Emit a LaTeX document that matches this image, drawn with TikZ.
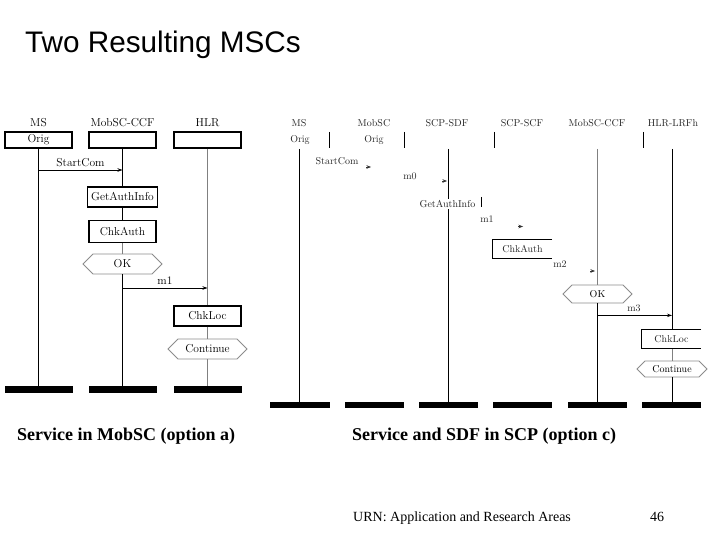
\documentclass[tikz,border=0pt]{standalone}
\usepackage{fontspec}
\usetikzlibrary{shapes.symbols,arrows.meta}
\newfontfamily\titlefont{Liberation Sans}
\newfontfamily\capfont{Liberation Serif}
\begin{document}
\begin{tikzpicture}[x=1pt,y=-1pt,
  lbl/.style={font=\fontsize{11.5}{13}\selectfont, inner sep=0},
  rlbl/.style={font=\fontsize{10}{12}\selectfont, inner sep=0, text=black!85},
  lbox/.style={draw, line width=1.1pt, fill=white, minimum width=67pt, minimum height=20pt, inner sep=0, font=\fontsize{11.5}{13}\selectfont},
  rbox/.style={inner sep=0, font=\fontsize{10}{12}\selectfont, text=black!85},
  hex/.style={signal, signal to=west and east, draw=black!45, line width=0.8pt, fill=white, inner sep=0},
  bar/.style={fill=black, inner sep=0},
  life/.style={line width=0.9pt},
  glife/.style={line width=0.7pt, draw=black!50},
  msg/.style={-{Stealth[length=5pt,width=3.5pt]}, line width=0.8pt},
  stub/.style={-{Stealth[length=4.5pt,width=3.5pt]}, line width=0.5pt, draw=black!80},
]
\useasboundingbox (0,0) rectangle (720,540);

% title
\node[anchor=base west, inner sep=0, font=\titlefont\fontsize{29.7}{32}\selectfont] (title) at (25,53) {Two Resulting MSCs};

% ================= left MSC =================
\node[lbl] (lms) at (38.5,123) {MS};
\node[lbl] (lccf) at (122.5,123) {MobSC-CCF};
\node[lbl] (lhlr) at (207.5,123) {HLR};
\node[lbox, minimum height=16pt] (lmsbox) at (38.5,140) {Orig};
\node[lbox, minimum height=16pt] (lccfbox) at (122.5,140) {};
\node[lbox, minimum height=16pt] (lhlrbox) at (207.5,140) {};

\node[lbox, minimum width=70pt] (lgai) at (122.5,197) {GetAuthInfo};
\node[lbox, minimum height=22pt] (lchk) at (122.5,231.5) {ChkAuth};
\node[hex, minimum width=79pt, minimum height=20pt, font=\fontsize{11.5}{13}\selectfont] (lok) at (122.5,264) {OK};
\node[lbox] (lloc) at (207.5,316) {ChkLoc};
\node[hex, minimum width=79pt, minimum height=20pt, font=\fontsize{11.5}{13}\selectfont] (lcont) at (207.5,349) {Continue};

\node[bar, minimum width=68pt, minimum height=7pt] (lmsbar) at (38.5,389.5) {};
\node[bar, minimum width=68pt, minimum height=7pt] (lccfbar) at (122.5,389.5) {};
\node[bar, minimum width=68pt, minimum height=7pt] (lhlrbar) at (207.5,389.5) {};

\draw[life] (lmsbox.south) -- (lmsbar.north);
\draw[life] (lccfbox.south) -- (lgai.north);
\draw[life] (lgai.south) -- (lchk.north);
\draw[glife] (lchk.south) -- (lok.north);
\draw[life] (lok.south) -- (lccfbar.north);
\draw[glife] (lhlrbox.south) -- (lloc.north);
\draw[glife] (lloc.south) -- (lcont.north);
\draw[glife] (lcont.south) -- (lhlrbar.north);

\draw[msg] (lmsbox.south |- 0,170) -- node[lbl, above=3pt] (lstart) {StartCom} (lccfbox.south |- 0,170);
\draw[msg] (lok.south |- 0,288) -- node[lbl, above=3pt] (lm1) {m1} (lhlrbox.south |- 0,288);

% ================= right MSC =================
\node[rlbl] (rms) at (299,123) {MS};
\node[rlbl] (rmsorig) at (300,140) {Orig};
\node[rlbl] (rmob) at (374,123) {MobSC};
\node[rlbl] (rmoborig) at (374,140) {Orig};
\node[rlbl] (rsdf) at (447,123) {SCP-SDF};
\node[rlbl] (rscf) at (522,123) {SCP-SCF};
\node[rlbl] (rccf) at (597,123) {MobSC-CCF};
\node[rlbl] (rhlr) at (673,123) {HLR-LRFh};

\draw[line width=0.9pt] (329,132) -- (329,148);
\draw[line width=0.9pt] (404,132) -- (404,148);
\draw[line width=0.9pt] (494,132) -- (494,148);
\draw[line width=0.9pt] (643,132) -- (643,148);

\coordinate (rmstop) at (299,149);
\coordinate (rsdftop) at (448,149);
\coordinate (rccftop) at (597,149);
\coordinate (rhlrtop) at (672,149);

\node[bar, minimum width=60pt, minimum height=6pt] (rmsbar) at (300,405) {};
\node[bar, minimum width=59pt, minimum height=6pt] (rmobbar) at (374.5,405) {};
\node[bar, minimum width=59pt, minimum height=6pt] (rsdfbar) at (448.5,405) {};
\node[bar, minimum width=59pt, minimum height=6pt] (rscfbar) at (522.5,405) {};
\node[bar, minimum width=59pt, minimum height=6pt] (rccfbar) at (597.5,405) {};
\node[bar, minimum width=59pt, minimum height=6pt] (rhlrbar) at (671.5,405) {};

\node[hex, minimum width=69pt, minimum height=18pt, font=\fontsize{10}{12}\selectfont] (rok) at (597.5,294) {OK};
\node[rbox, minimum width=59pt, minimum height=18pt] (rloc) at (671.5,339) {ChkLoc};
\node[hex, minimum width=70pt, minimum height=16pt, font=\fontsize{10}{12}\selectfont] (rcont) at (672,369) {Continue};
\node[rbox, minimum width=59pt, minimum height=18pt] (rchk) at (522.5,249) {ChkAuth};

\draw[life] (rmstop) -- (rmsbar.north -| rmstop);
\draw[life] (rsdftop) -- (rsdfbar.north -| rsdftop);
\draw[glife] (rccftop) -- (rok.north -| rccftop);
\draw[life] (rok.south -| rccftop) -- (rccfbar.north -| rccftop);
\draw[life] (rhlrtop) -- (rloc.north -| rhlrtop);
\draw[glife] (rloc.south -| rhlrtop) -- (rcont.north -| rhlrtop);
\draw[life] (rcont.south -| rhlrtop) -- (rhlrbar.north -| rhlrtop);

\draw[line width=0.9pt] (rchk.north east) -- (rchk.north west) -- (rchk.south west) -- (rchk.south east);
\draw[line width=0.9pt] (rloc.north east) -- (rloc.north west) -- (rloc.south west) -- (rloc.south east);

\node[rlbl] (rstart) at (337,161) {StartCom};
\node[rlbl] (rm0) at (410,176) {m0};
\node[rlbl, fill=white, inner sep=1pt] (rgai) at (447.5,204) {GetAuthInfo};
\draw[line width=0.9pt] (481.5,197) -- (481.5,207);
\node[rlbl] (rm1) at (487,219) {m1};
\node[rlbl] (rm2) at (560,264) {m2};

\coordinate (s1a) at (366,167); \coordinate (s1b) at (371,167);
\coordinate (s2a) at (442,181); \coordinate (s2b) at (447,181);
\coordinate (s3a) at (518,226.5); \coordinate (s3b) at (523,226.5);
\coordinate (s4a) at (590,271); \coordinate (s4b) at (595,271);
\draw[stub] (s1a) -- (s1b);
\draw[stub] (s2a) -- (s2b);
\draw[stub] (s3a) -- (s3b);
\draw[stub] (s4a) -- (s4b);

\draw[msg] (rok.south -| rccftop) ++(0,12) coordinate (rm3a) -- (rm3a -| rhlrtop);
\node[rlbl] (rm3) at (634,308) {m3};

% ================= captions =================
\node[anchor=base west, inner sep=0, font=\capfont\bfseries\fontsize{18}{20}\selectfont] (cap1) at (17,440) {Service in MobSC (option a)};
\node[anchor=base west, inner sep=0, font=\capfont\bfseries\fontsize{18}{20}\selectfont] (cap2) at (352,440) {Service and SDF in SCP (option c)};
\node[anchor=base west, inner sep=0, font=\capfont\fontsize{14}{16}\selectfont] (foot) at (353,521.5) {URN: Application and Research Areas};
\node[anchor=base west, inner sep=0, font=\capfont\fontsize{14}{16}\selectfont] (page) at (650,521.5) {46};
\end{tikzpicture}
\end{document}
